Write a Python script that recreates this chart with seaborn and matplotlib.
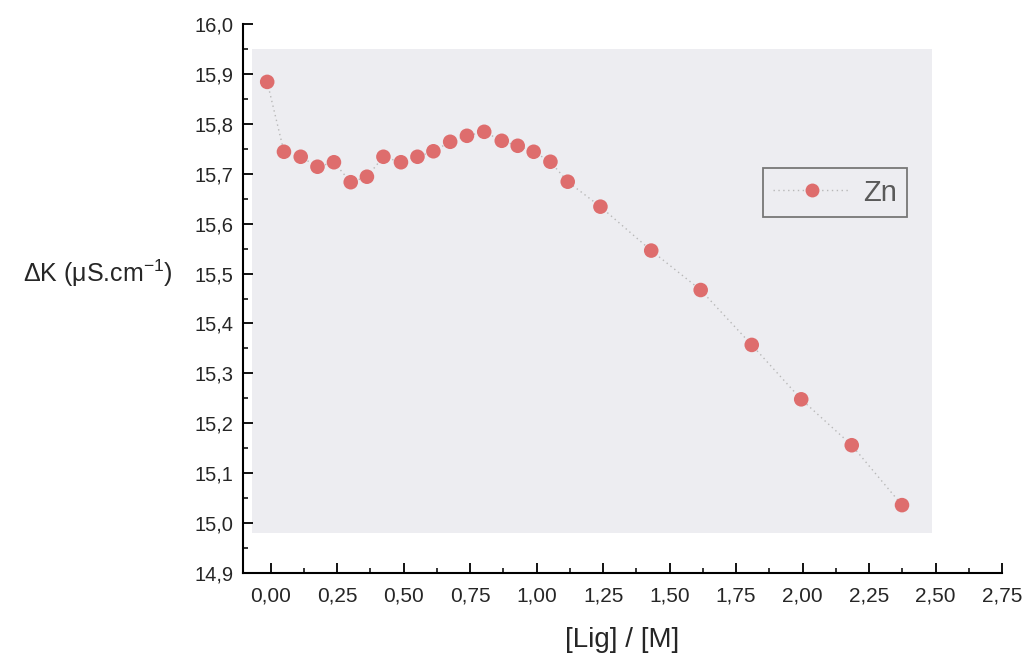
import numpy as np
import pandas as pd
import matplotlib
matplotlib.use("Agg")
import matplotlib.pyplot as plt
import seaborn as sns
from matplotlib.patches import Rectangle
from matplotlib.lines import Line2D
from matplotlib.ticker import MultipleLocator, FuncFormatter

# --- dati ---
lig_m = [-0.013, 0.050, 0.113, 0.176, 0.238, 0.301, 0.362, 0.424, 0.490, 0.552,
         0.612, 0.675, 0.738, 0.803, 0.869, 0.929, 0.989, 1.052, 1.117, 1.240,
         1.431, 1.617, 1.809, 1.995, 2.185, 2.374]
delta_k = [15.884, 15.744, 15.734, 15.714, 15.723, 15.683, 15.694, 15.734, 15.723, 15.734,
           15.745, 15.764, 15.776, 15.784, 15.766, 15.756, 15.744, 15.724, 15.684, 15.634,
           15.546, 15.467, 15.357, 15.248, 15.156, 15.036]
serie = "Zn"

df = pd.DataFrame({"lig": lig_m, "dk": delta_k})

sns.set_style("ticks")
plt.rcParams["font.family"] = ["Liberation Sans", "DejaVu Sans"]
plt.rcParams["mathtext.fontset"] = "custom"
plt.rcParams["mathtext.rm"] = "Liberation Sans"
plt.rcParams["mathtext.it"] = "Liberation Sans:italic"

PUNTI = "#de6d6d"
LINEA = "#b8b8b8"
SFONDO = "#ededf1"

fig = plt.figure(figsize=(10.26, 6.55), dpi=100)
ax = fig.add_axes([243 / 1026, 1 - 573 / 655, 759 / 1026, 549 / 655])

# riquadro grigio di sfondo dell'area dati
ax.add_patch(Rectangle((-0.072, 14.98), 2.559, 0.97, facecolor=SFONDO,
                       edgecolor="none", zorder=0))

sns.lineplot(data=df, x="lig", y="dk", sort=False, ax=ax, color=LINEA,
             linestyle=(0, (1, 2.5)), linewidth=1.0, zorder=2)
sns.scatterplot(data=df, x="lig", y="dk", ax=ax, color=PUNTI, s=110,
                edgecolor="none", zorder=3)

ax.set_xlim(-0.104, 2.75)
ax.set_ylim(14.9, 16.0)
ax.xaxis.set_major_locator(MultipleLocator(0.25))
ax.xaxis.set_minor_locator(MultipleLocator(0.125))
ax.yaxis.set_major_locator(MultipleLocator(0.1))
ax.yaxis.set_minor_locator(MultipleLocator(0.05))
ax.xaxis.set_major_formatter(FuncFormatter(lambda v, p: f"{v:.2f}".replace(".", ",")))
ax.yaxis.set_major_formatter(FuncFormatter(lambda v, p: f"{v:.1f}".replace(".", ",")))

ax.tick_params(which="major", direction="in", length=7, width=1.3, color="black")
ax.tick_params(which="minor", direction="in", length=3.5, width=1.1, color="black")
ax.tick_params(axis="x", which="major", labelsize=15, pad=9.5)
ax.tick_params(axis="y", which="major", labelsize=14.5, pad=7)

for lato in ["top", "right"]:
    ax.spines[lato].set_visible(False)
for lato in ["left", "bottom"]:
    ax.spines[lato].set_linewidth(1.5)
    ax.spines[lato].set_color("black")

ax.set_xlabel("[Lig] / [M]", fontsize=20, va="center")
ax.xaxis.set_label_coords(0.5, -0.122)
ax.set_ylabel(r"ΔK (μS.cm$^{-1}$)", fontsize=18, rotation=0, ha="right", va="center")
ax.yaxis.set_label_coords(-0.092, 0.546)

maniglia = Line2D([0], [0], color=LINEA, linestyle=(0, (1, 2.5)), linewidth=1.0,
                  marker="o", markersize=10, markerfacecolor=PUNTI,
                  markeredgecolor="none")
leg = ax.legend([maniglia], [serie], loc="upper left", bbox_to_anchor=(0.685, 0.737),
                frameon=True, fancybox=False, framealpha=1, fontsize=21,
                handlelength=2.64, handletextpad=0.45, borderpad=0.35,
                borderaxespad=0)
leg.get_frame().set_edgecolor("#777777")
leg.get_frame().set_linewidth(1.3)
leg.get_frame().set_facecolor(SFONDO)
for t in leg.get_texts():
    t.set_color("#5a5a5a")

fig.savefig("out.png", dpi=100)
plt.close(fig)
